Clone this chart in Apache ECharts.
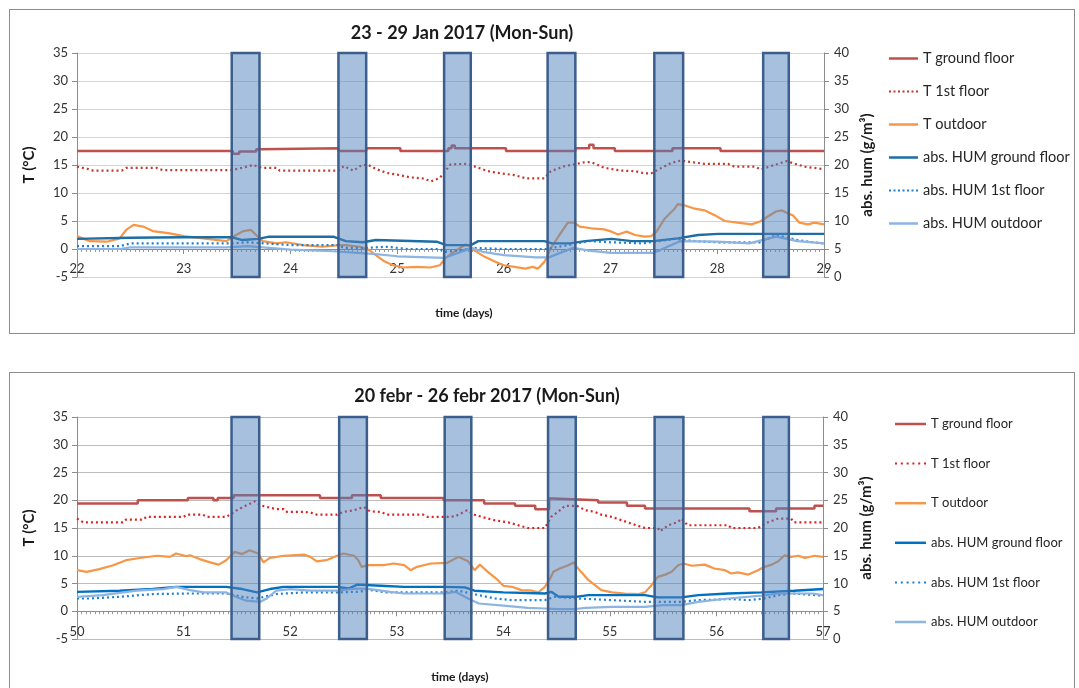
<!DOCTYPE html>
<html>
<head>
<meta charset="utf-8">
<script src="https://cdn.jsdelivr.net/npm/echarts@6.0.0/dist/echarts.min.js"></script>
<style>
  html, body { margin: 0; padding: 0; background: #fff; width: 1079px; height: 688px; overflow: hidden; }
  .frame { position: absolute; box-sizing: border-box; border: 1px solid #8c8c8c; background: #fff; }
  #janFrame { left: 9px; top: 9px; width: 1066px; height: 325px; }
  #febFrame { left: 9px; top: 372px; width: 1066px; height: 330px; }
  .chart { width: 100%; height: 100%; }
</style>
</head>
<body>
<div class="frame" id="janFrame"><div class="chart" id="janChart"></div></div>
<div class="frame" id="febFrame"><div class="chart" id="febChart"></div></div>
<script>
// ---------- legend / series names ----------
const seriesNames = ['T ground floor', 'T 1st floor', 'T outdoor',
  'abs. HUM ground floor', 'abs. HUM 1st floor', 'abs. HUM outdoor'];

// ---------- week 23-29 Jan 2017 (days 22-29) ----------
// occupied hours, [start day, end day]
const janBands = [[23.45, 23.71], [24.45, 24.71], [25.44, 25.69], [26.41, 26.67], [27.41, 27.68], [28.43, 28.67]];

// temperatures, °C  [day, value]
const janTGround = [[22, 17.5], [23.46, 17.0], [23.52, 17.4], [23.68, 17.8], [23.72, 18.0], [24.45, 17.5], [24.71, 18.0],
  [25.03, 17.5], [25.48, 18.0], [25.51, 18.5], [25.54, 18.0], [26.02, 17.5], [26.67, 18.0], [26.8, 18.6], [26.84, 18.0],
  [27.04, 17.5], [27.58, 18.0], [28.03, 17.5], [29, 17.5]];

const janT1st = [[22.0, 14.7], [22.1, 14.3], [22.15, 14.0], [22.42, 14.0], [22.46, 14.5], [22.74, 14.5], [22.8, 14.1],
  [23.45, 14.1], [23.55, 14.5], [23.65, 15.0], [23.73, 14.5], [23.87, 14.5], [23.9, 14.0], [24.45, 14.0], [24.5, 14.8],
  [24.59, 14.0], [24.67, 15.0], [24.73, 15.0], [24.8, 14.3], [24.9, 13.6], [25.02, 13.2], [25.12, 12.8], [25.24, 12.6],
  [25.32, 12.1], [25.4, 12.7], [25.5, 15.1], [25.63, 15.2], [25.69, 15.0], [25.76, 14.5], [25.85, 13.9], [25.97, 13.5],
  [26.1, 13.2], [26.21, 12.6], [26.38, 12.6], [26.44, 13.9], [26.57, 14.8], [26.68, 15.2], [26.76, 15.5], [26.82, 15.5],
  [26.88, 15.0], [26.94, 14.5], [27.1, 14.0], [27.23, 13.9], [27.32, 13.5], [27.38, 13.5], [27.48, 14.5], [27.57, 15.4],
  [27.66, 15.8], [27.73, 15.6], [27.88, 15.2], [28.1, 15.2], [28.16, 14.7], [28.35, 14.7], [28.41, 14.2], [28.5, 14.8],
  [28.57, 15.2], [28.65, 15.7], [28.73, 15.2], [28.82, 14.7], [28.98, 14.3]];

const janTOut = [[22.0, 2.3], [22.12, 1.4], [22.28, 1.3], [22.4, 1.9], [22.46, 3.4], [22.53, 4.3], [22.62, 4.0], [22.71, 3.2],
  [22.87, 2.8], [23.0, 2.3], [23.18, 1.9], [23.4, 1.4], [23.49, 2.5], [23.56, 3.2], [23.63, 3.4], [23.68, 2.5], [23.74, 1.4],
  [23.87, 1.0], [23.96, 1.2], [24.12, 0.7], [24.3, 0.4], [24.45, 0.7], [24.52, 0.7], [24.65, 0.4], [24.74, -0.2], [24.8, -1.1],
  [24.88, -2.2], [24.96, -2.9], [25.06, -3.3], [25.18, -3.2], [25.31, -3.3], [25.4, -2.9], [25.46, -1.5], [25.55, -0.3],
  [25.64, 0.8], [25.69, 0.4], [25.72, -0.2], [25.82, -1.4], [25.91, -2.2], [26.0, -2.9], [26.1, -3.2], [26.2, -3.5],
  [26.27, -3.2], [26.32, -3.5], [26.38, -2.3], [26.44, 0.1], [26.52, 2.5], [26.6, 4.7], [26.66, 4.7], [26.71, 4.0],
  [26.82, 3.7], [26.94, 3.5], [27.01, 3.1], [27.07, 2.6], [27.15, 3.1], [27.23, 2.5], [27.32, 2.2], [27.38, 2.3],
  [27.43, 3.1], [27.51, 5.5], [27.6, 7.2], [27.63, 8.0], [27.69, 7.8], [27.79, 7.2], [27.88, 6.9], [27.98, 6.0],
  [28.07, 5.0], [28.19, 4.7], [28.32, 4.4], [28.4, 4.9], [28.48, 5.9], [28.55, 6.7], [28.6, 6.9], [28.66, 6.4],
  [28.71, 6.0], [28.77, 4.7], [28.85, 4.4], [28.91, 4.7], [29.0, 4.4]];

// absolute humidity, g/m³  [day, value]
const janHGround = [[22.0, 6.8], [22.5, 7.0], [23.0, 7.1], [23.45, 7.1], [23.55, 6.6], [23.7, 6.8], [23.8, 7.2], [24.4, 7.2],
  [24.52, 6.4], [24.68, 6.2], [24.8, 6.6], [25.37, 6.3], [25.46, 5.7], [25.69, 5.7], [25.76, 6.4], [26.38, 6.4], [26.45, 6.0],
  [26.62, 6.0], [26.76, 6.4], [27.01, 6.8], [27.2, 6.4], [27.4, 6.4], [27.63, 6.9], [27.82, 7.5], [28.01, 7.7], [29.0, 7.7]];

const janH1st = [[22.0, 5.5], [22.4, 5.5], [22.5, 6.0], [23.45, 6.0], [23.6, 6.2], [24.0, 5.7], [24.45, 5.7], [24.5, 5.2],
  [24.7, 5.2], [24.9, 5.4], [25.1, 5.0], [25.4, 5.0], [25.45, 4.5], [25.6, 4.8], [25.72, 5.2], [26.0, 5.0], [26.4, 5.0],
  [26.6, 5.7], [26.8, 6.4], [27.0, 6.2], [27.3, 6.0], [27.6, 6.8], [27.8, 6.4], [28.0, 6.2], [28.4, 6.2], [28.55, 7.5],
  [28.75, 6.6], [28.9, 6.2], [29.0, 6.0]];

const janHOut = [[22.0, 5.0], [22.4, 5.0], [22.5, 5.3], [23.4, 5.3], [23.6, 5.5], [24.0, 4.9], [24.4, 4.6], [24.8, 4.1],
  [25.0, 3.7], [25.44, 3.4], [25.7, 5.2], [25.8, 4.5], [26.0, 3.9], [26.3, 3.5], [26.42, 3.5], [26.65, 5.2], [26.8, 4.7],
  [27.0, 4.3], [27.4, 4.3], [27.65, 6.4], [28.0, 6.3], [28.3, 6.0], [28.55, 7.2], [28.75, 6.4], [29.0, 6.0]];

// ---------- week 20-26 Feb 2017 (days 50-57) ----------
const febBands = [[51.45, 51.71], [52.46, 52.72], [53.45, 53.70], [54.42, 54.68], [55.42, 55.69], [56.44, 56.68]];

const febTGround = [[50, 19.4], [50.57, 20.0], [51.04, 20.4], [51.28, 20.0], [51.32, 20.4], [51.47, 20.9], [52.28, 20.4],
  [52.58, 20.9], [52.85, 20.4], [53.44, 20.0], [53.82, 19.4], [54.11, 19.0], [54.3, 18.4], [54.43, 20.3], [54.46, 20.0],
  [54.89, 19.6], [55.16, 19.0], [55.33, 18.5], [56.31, 18.0], [56.56, 18.5], [56.92, 19.0], [57, 19.0]];

const febT1st = [[50.0, 16.7], [50.06, 16.0], [50.43, 16.0], [50.46, 16.5], [50.62, 16.5], [50.65, 17.0], [51.0, 17.0],
  [51.03, 17.4], [51.18, 17.4], [51.22, 17.0], [51.4, 17.0], [51.5, 18.2], [51.59, 19.1], [51.67, 19.8], [51.72, 19.1],
  [51.78, 18.8], [51.87, 18.4], [51.94, 18.4], [51.97, 17.9], [52.13, 17.9], [52.19, 17.8], [52.25, 17.4], [52.44, 17.4],
  [52.5, 17.9], [52.6, 18.2], [52.69, 18.8], [52.75, 18.0], [52.85, 17.9], [52.91, 17.4], [53.25, 17.4], [53.29, 17.0],
  [53.47, 17.0], [53.55, 17.1], [53.66, 18.2], [53.73, 17.4], [53.8, 17.0], [53.92, 16.4], [54.05, 16.0], [54.14, 15.5],
  [54.23, 15.0], [54.39, 15.0], [54.45, 17.0], [54.52, 18.0], [54.58, 19.0], [54.69, 19.0], [54.77, 18.2], [54.86, 17.9],
  [54.92, 17.4], [55.02, 17.0], [55.11, 16.4], [55.2, 15.8], [55.33, 15.0], [55.45, 15.0], [55.47, 14.4], [55.55, 15.5],
  [55.64, 16.1], [55.67, 16.7], [55.73, 15.5], [56.11, 15.5], [56.14, 15.0], [56.39, 15.0], [56.48, 16.0], [56.58, 16.7],
  [56.7, 16.7], [56.73, 16.0], [57.0, 16.0]];

const febTOut = [[50.0, 7.4], [50.09, 7.1], [50.21, 7.6], [50.34, 8.3], [50.46, 9.2], [50.59, 9.6], [50.75, 10.0], [50.87, 9.8],
  [50.93, 10.4], [51.03, 9.9], [51.06, 10.1], [51.15, 9.4], [51.25, 8.8], [51.33, 8.4], [51.4, 9.2], [51.48, 10.7],
  [51.55, 10.3], [51.62, 11.0], [51.7, 10.4], [51.75, 8.8], [51.81, 9.6], [51.94, 10.0], [52.13, 10.2], [52.19, 9.8],
  [52.25, 9.0], [52.34, 9.2], [52.44, 10.0], [52.5, 10.4], [52.6, 10.0], [52.64, 9.2], [52.67, 8.0], [52.74, 8.3],
  [52.88, 8.3], [52.97, 8.6], [53.07, 8.3], [53.13, 7.4], [53.19, 8.0], [53.32, 8.6], [53.47, 8.7], [53.58, 9.8],
  [53.67, 9.0], [53.73, 7.4], [53.78, 8.4], [53.86, 7.0], [53.95, 5.6], [54.0, 4.6], [54.08, 4.4], [54.17, 3.8],
  [54.27, 3.7], [54.33, 3.4], [54.39, 4.4], [54.44, 5.9], [54.47, 7.1], [54.53, 7.7], [54.61, 8.3], [54.66, 8.8],
  [54.69, 8.0], [54.73, 7.1], [54.8, 5.6], [54.86, 4.7], [54.92, 3.8], [55.02, 3.4], [55.14, 3.2], [55.27, 3.1],
  [55.33, 3.4], [55.39, 4.7], [55.45, 6.2], [55.52, 6.6], [55.58, 7.1], [55.64, 8.3], [55.69, 8.6], [55.77, 8.2],
  [55.89, 8.4], [55.98, 7.7], [56.08, 7.4], [56.14, 6.8], [56.2, 7.0], [56.3, 6.6], [56.39, 7.4], [56.45, 8.0],
  [56.52, 8.4], [56.58, 9.0], [56.64, 10.1], [56.7, 9.8], [56.77, 10.0], [56.83, 9.6], [56.92, 10.0], [57.0, 9.8]];

const febHGround = [[50.0, 8.5], [50.4, 8.7], [50.71, 9.0], [50.93, 9.4], [51.4, 9.4], [51.55, 9.0], [51.69, 8.4], [51.81, 9.0],
  [51.94, 9.4], [52.44, 9.4], [52.55, 9.1], [52.63, 9.8], [52.85, 9.6], [53.07, 9.4], [53.44, 9.4], [53.64, 9.3], [53.73, 8.7],
  [54.0, 8.4], [54.39, 8.2], [54.45, 8.5], [54.52, 7.6], [54.68, 7.6], [54.8, 7.9], [55.33, 7.9], [55.45, 7.5], [55.67, 7.5],
  [55.83, 7.9], [56.11, 8.2], [56.42, 8.4], [56.73, 8.7], [57.0, 9.0]];

const febH1st = [[50.0, 7.3], [50.12, 7.3], [50.4, 7.6], [50.71, 8.1], [51.03, 8.2], [51.4, 8.2], [51.55, 7.6], [51.69, 7.3],
  [51.87, 8.1], [52.13, 8.4], [52.44, 8.4], [52.63, 8.5], [52.75, 8.8], [52.91, 8.4], [53.45, 8.4], [53.58, 8.7], [53.77, 7.9],
  [53.92, 7.3], [54.08, 7.0], [54.39, 7.0], [54.48, 7.6], [54.7, 7.3], [55.02, 7.0], [55.33, 6.7], [55.67, 6.7], [55.83, 7.0],
  [56.14, 7.2], [56.3, 7.0], [56.45, 7.3], [56.58, 7.9], [56.73, 8.2], [57.0, 7.8]];

const febHOut = [[50.0, 7.6], [50.24, 7.9], [50.56, 8.7], [50.81, 9.0], [50.93, 9.4], [51.06, 8.8], [51.19, 8.4], [51.4, 8.4],
  [51.49, 7.6], [51.59, 6.9], [51.72, 6.7], [51.78, 7.3], [51.87, 8.7], [52.0, 9.0], [52.19, 8.7], [52.44, 8.7], [52.63, 9.1],
  [52.75, 9.0], [52.94, 8.5], [53.07, 8.2], [53.45, 8.2], [53.55, 8.5], [53.67, 7.3], [53.77, 6.4], [54.0, 6.0], [54.23, 5.6],
  [54.39, 5.5], [54.52, 5.4], [54.68, 5.4], [54.77, 5.6], [55.02, 5.8], [55.33, 5.8], [55.5, 6.1], [55.67, 6.1], [55.83, 6.7],
  [56.11, 7.3], [56.42, 7.8], [56.58, 8.2], [56.9, 8.2], [57.0, 7.9]];

// ---------- chart builder ----------
const FONT = 'Lato, "Open Sans", sans-serif';

// legend glyphs: a flat bar for solid lines, a row of square dots for dotted lines
function dotsPath(n, size, period) {
  let p = 'path://';
  for (let i = 0; i < n; i++) p += 'M' + (i * period) + ',0h' + size + 'v' + size + 'h-' + size + 'z';
  return p;
}

function buildOption(cfg) {
  const line = (name, data, axis, color, width, dotted, stepped) => ({
    type: 'line', name, data, yAxisIndex: axis, xAxisIndex: 0,
    symbol: 'none', showSymbol: false, step: stepped ? 'end' : false, z: 3, silent: true,
    lineStyle: { color, width, type: dotted ? [2, 3] : 'solid', cap: 'butt' },
    itemStyle: { color }
  });
  const ax = '#8c8c8c';
  const dotIcon = dotsPath(cfg.legendDots, 2, cfg.legendDotPeriod);
  const zeroH = cfg.gridH * 35 / 40;   // height of the 35 → 0 band, where the day axis sits
  return {
    animation: false,
    textStyle: { fontFamily: FONT },
    graphic: [
      { type: 'text', x: cfg.titleX, y: 23, silent: true,
        style: { text: cfg.title, font: 'bold 18px ' + FONT, fill: '#1a1a1a', textAlign: 'center', textVerticalAlign: 'middle' } },
      { type: 'text', x: cfg.xNameX, y: cfg.xNameY, silent: true,
        style: { text: 'time (days)', font: 'bold 12px ' + FONT, fill: '#1a1a1a', textAlign: 'center', textVerticalAlign: 'middle' } }
    ],
    legend: {
      orient: 'vertical', left: cfg.legendLeft, top: cfg.legendTop, itemGap: cfg.legendGap, padding: 0,
      itemWidth: cfg.legendIconW, itemHeight: 2.5, selectedMode: false,
      textStyle: { fontFamily: FONT, fontSize: cfg.legendFont, lineHeight: cfg.legendLine, color: '#262626' },
      data: seriesNames.map((n, i) => ({ name: n, icon: (i === 1 || i === 4) ? dotIcon : 'rect' }))
    },
    grid: [
      { left: 67, top: cfg.gridTop, width: cfg.gridW, height: cfg.gridH },
      { left: 67, top: cfg.gridTop, width: cfg.gridW, height: zeroH }
    ],
    xAxis: [
      { type: 'value', gridIndex: 0, min: cfg.xMin, max: cfg.xMax, interval: 1, show: false },
      {
        type: 'value', gridIndex: 1, min: cfg.xMin, max: cfg.xMax, interval: 1, position: 'bottom',
        axisLine: { onZero: false, lineStyle: { color: ax, width: 1 } },
        axisTick: { show: true, length: 5, lineStyle: { color: ax } },
        minorTick: { show: true, splitNumber: 24, length: 3, lineStyle: { color: '#9a9a9a' } },
        axisLabel: { margin: cfg.xLabelMargin, fontSize: 13, color: '#333', fontFamily: FONT, showMinLabel: true, showMaxLabel: true },
        splitLine: { show: false }, minorSplitLine: { show: false }
      }
    ],
    yAxis: [
      {
        type: 'value', gridIndex: 0, min: -5, max: 35, interval: 5, position: 'left',
        name: 'T (°C)', nameLocation: 'middle', nameGap: 40,
        nameTextStyle: { fontWeight: 'bold', fontSize: 15, color: '#1a1a1a', fontFamily: FONT },
        axisLine: { show: true, lineStyle: { color: ax } },
        axisTick: { show: true, length: 5, lineStyle: { color: ax } },
        axisLabel: { margin: 9, fontSize: 13, color: '#333', fontFamily: FONT },
        splitLine: { show: true, lineStyle: { color: cfg.gridColor, width: 1 } }
      },
      {
        type: 'value', gridIndex: 0, min: 0, max: 40, interval: 5, position: 'right',
        name: 'abs. hum (g/m³)', nameLocation: 'middle', nameGap: 34,
        nameTextStyle: { fontWeight: 'bold', fontSize: 15, color: '#1a1a1a', fontFamily: FONT },
        axisLine: { show: true, lineStyle: { color: ax } },
        axisTick: { show: true, length: 5, lineStyle: { color: ax } },
        axisLabel: { margin: 10, fontSize: 13, color: '#333', fontFamily: FONT },
        splitLine: { show: false }
      },
      { type: 'value', gridIndex: 1, min: 0, max: 35, show: false }
    ],
    series: [
      line(seriesNames[0], cfg.tGround, 0, '#c0504d', 2.5, false, true),
      line(seriesNames[1], cfg.t1st, 0, cfg.t1stColor, 2.2, true, false),
      line(seriesNames[2], cfg.tOut, 0, '#f79646', 2.2, false, false),
      line(seriesNames[3], cfg.hGround, 1, cfg.hGroundColor, 2.4, false, false),
      line(seriesNames[4], cfg.h1st, 1, '#1f7fd0', 2.2, true, false),
      line(seriesNames[5], cfg.hOut, 1, '#8db4e2', 2.2, false, false),
      {
        type: 'line', name: 'occupancy', data: [], xAxisIndex: 0, yAxisIndex: 0, z: 10, silent: true,
        markArea: {
          silent: true, z: 10,
          itemStyle: { color: 'rgba(79,129,189,0.5)', borderColor: '#3b5e8d', borderWidth: 2.5 },
          label: { show: false },
          data: cfg.bands.map(b => [{ xAxis: b[0] }, { xAxis: b[1] }])
        }
      }
    ]
  };
}

const janChart = echarts.init(document.getElementById('janChart'), null, { renderer: 'canvas' });
janChart.setOption(buildOption({
  title: '23 - 29 Jan 2017 (Mon-Sun)', titleX: 452, xNameX: 454, xNameY: 303,
  xMin: 22, xMax: 29, gridTop: 43, gridW: 747, gridH: 224, xLabelMargin: 13,
  gridColor: '#d4d4d4', legendLeft: 879, legendTop: 41, legendGap: 18, legendLine: 15,
  legendIconW: 29, legendFont: 14.5, legendDots: 7, legendDotPeriod: 4.5,
  t1stColor: '#c0392b', hGroundColor: '#1c6ea4',
  bands: janBands, tGround: janTGround, t1st: janT1st, tOut: janTOut,
  hGround: janHGround, h1st: janH1st, hOut: janHOut
}));

const febChart = echarts.init(document.getElementById('febChart'), null, { renderer: 'canvas' });
febChart.setOption(buildOption({
  title: '20 febr - 26 febr 2017 (Mon-Sun)', titleX: 477, xNameX: 450, xNameY: 304,
  xMin: 50, xMax: 57, gridTop: 44, gridW: 746, gridH: 222, xLabelMargin: 14,
  gridColor: '#bdbdbd', legendLeft: 885, legendTop: 44, legendGap: 25.6, legendLine: 14,
  legendIconW: 31, legendFont: 13, legendDots: 6, legendDotPeriod: 5.8,
  t1stColor: '#e0201e', hGroundColor: '#0070c0',
  bands: febBands, tGround: febTGround, t1st: febT1st, tOut: febTOut,
  hGround: febHGround, h1st: febH1st, hOut: febHOut
}));
</script>
</body>
</html>
